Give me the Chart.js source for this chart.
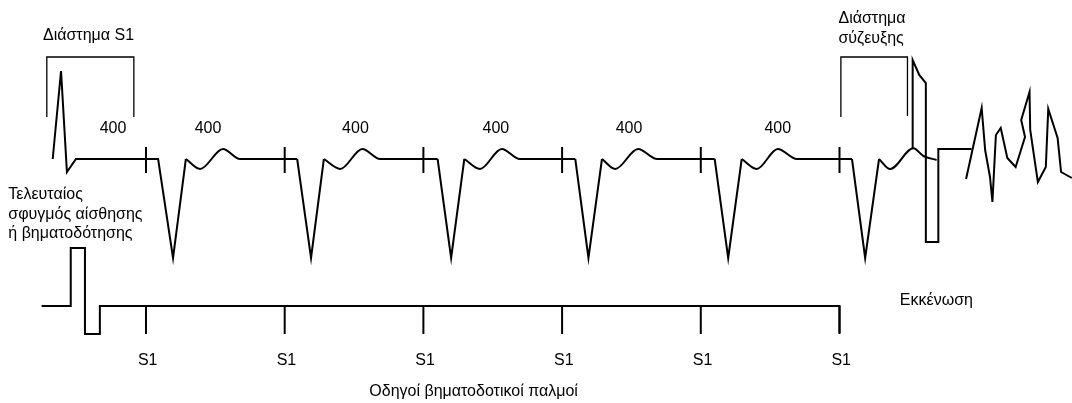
<!DOCTYPE html>
<html>
<head>
<meta charset="utf-8">
<title>Διάστημα σύζευξης</title>
<script src="https://cdn.jsdelivr.net/npm/chart.js@4.4.1/dist/chart.umd.min.js"></script>
<style>
  html, body { margin: 0; padding: 0; background: #fff; }
  #wrap { width: 1072px; height: 403px; }
</style>
</head>
<body>
<div id="wrap"><canvas id="ecgChart" width="1072" height="403"></canvas></div>
<script>
// time in ms (0 = first S1 pace), amplitude in mm from the baseline
const s1Times = [0, 400, 800, 1200, 1600, 2000];

// last sensed / paced beat before the train
const spontT = [-269, -245, -228, -202];
const spontA = [0, 8.8, -1.3, 0];

// paced beats, one entry per S1
const qrsOnset = [35, 436, 841, 1238, 1640, 2036];
const qrsNadir = [78, 476, 880, 1276, 1679, 2074];
const qrsEnd   = [115, 513, 918, 1315, 1718, 2114];
const qrsAmp   = [-9.9, -9.9, -9.9, -9.9, -9.9, -9.9];
const tDip     = [156, 560, 963, 1353, 1761, 2146];
const tDipAmp  = [-1.0, -1.0, -1.0, -1.0, -1.0, -1.0];
const tPeak    = [222, 624, 1026, 1419, 1822, 2213];
const tPeakAmp = [1.0, 1.0, 1.0, 1.0, 1.0, 1.07];
const tEnd     = [271, 675, 1078, 1474, 1877];
// last T wave is cut by the shock
const lastTailT = [2242, 2280];
const lastTailA = [0.3, -0.1];

// S1 marks on the ECG
const markTop = 1.2;
const markBottom = -1.4;

// shock and VF
const shockT = [2211, 2211, 2230, 2249, 2249, 2285, 2285, 2381];
const shockA = [1.0, 9.9, 8.4, 7.6, -8.3, -8.3, 1.0, 1.0];
const fibT = [2365, 2410, 2420, 2434, 2441, 2451, 2465, 2484, 2508, 2535, 2524, 2548, 2550, 2572, 2595, 2602, 2629, 2639, 2670];
const fibA = [-2.0, 5.1, 0.9, -1.8, -4.3, 2.4, 3.1, 0.1, -0.8, 2.2, 3.9, 6.7, 2.9, -2.3, -0.8, 5.0, 2.1, -1.3, -1.9];

// interval brackets
const bracketS1T = [-286, -286, -35, -35];
const bracketS1A = [4.2, 10.2, 10.2, 4.2];
const bracketCouplingT = [2004, 2004, 2196, 2196];
const bracketCouplingA = [4.2, 10.2, 10.2, 4.3];

// pacing channel (second axis)
const paceT = [-301, -217, -217, -176, -176, -133, -133, 2000, 2000];
const paceA = [0, 0, 5.8, 5.8, -2.8, -2.8, 0, 0, -2.7];
const paceMarkBottom = -2.8;

// text
const intervalLabels = ['400', '400', '400', '400', '400', '400'];
const intervalLabelT = [-95, 179, 604, 1009, 1393, 1822];
const textLabels = [
    { text: 'Διάστημα S1', t: -297, a: 11.9, axis: 'y', align: 'left' },
    { text: 'Διάστημα', t: 1997, a: 13.65, axis: 'y', align: 'left' },
    { text: 'σύζευξης', t: 1997, a: 11.6, axis: 'y', align: 'left' },
    { text: 'Τελευταίος', t: -397, a: -3.95, axis: 'y', align: 'left' },
    { text: 'σφυγμός αίσθησης', t: -397, a: -5.95, axis: 'y', align: 'left' },
    { text: 'ή βηματοδότησης', t: -397, a: -7.9, axis: 'y', align: 'left' },
    { text: 'Εκκένωση', t: 2174, a: 0.12, axis: 'y2', align: 'left' },
    { text: 'Οδηγοί βηματοδοτικοί παλμοί', t: 644, a: -9.0, axis: 'y2', align: 'left' }
];
intervalLabels.forEach((txt, i) => {
    textLabels.push({ text: txt, t: intervalLabelT[i], a: 2.57, axis: 'y', align: 'center' });
});
s1Times.forEach(t => {
    textLabels.push({ text: 'S1', t: t + 5, a: -5.9, axis: 'y2', align: 'center' });
});

function pts(xs, ys) {
    return xs.map((x, i) => ({ x: x, y: ys[i] }));
}

document.addEventListener('DOMContentLoaded', function () {
    // straight parts of the ECG: spontaneous beat + each QRS
    const ecgSharp = pts(spontT, spontA);
    for (let i = 0; i < s1Times.length; i++) {
        if (i > 0) ecgSharp.push({ x: qrsOnset[i], y: null });
        ecgSharp.push({ x: qrsOnset[i], y: 0 });
        ecgSharp.push({ x: qrsNadir[i], y: qrsAmp[i] });
        ecgSharp.push({ x: qrsEnd[i], y: 0 });
    }

    // T waves (smooth), each runs on to the next QRS onset
    const tWaveSets = [];
    for (let i = 0; i < s1Times.length; i++) {
        const wave = [
            { x: qrsEnd[i], y: 0 },
            { x: tDip[i], y: tDipAmp[i] },
            { x: tPeak[i], y: tPeakAmp[i] }
        ];
        if (i < tEnd.length) {
            wave.push({ x: tEnd[i], y: 0 });
            wave.push({ x: qrsOnset[i + 1], y: 0 });
        } else {
            lastTailT.forEach((t, k) => wave.push({ x: t, y: lastTailA[k] }));
        }
        tWaveSets.push(wave);
    }

    const ecgMarks = [];
    const paceMarks = [];
    s1Times.forEach(t => {
        ecgMarks.push({ x: t, y: markTop }, { x: t, y: markBottom }, { x: t, y: null });
        paceMarks.push({ x: t, y: 0 }, { x: t, y: paceMarkBottom }, { x: t, y: null });
    });

    const brackets = pts(bracketS1T, bracketS1A)
        .concat([{ x: -35, y: null }])
        .concat(pts(bracketCouplingT, bracketCouplingA));

    function line(data, extra) {
        return Object.assign({
            data: data,
            showLine: true,
            borderColor: '#000',
            borderWidth: 2,
            pointRadius: 0,
            pointHoverRadius: 0,
            tension: 0,
            fill: false,
            yAxisID: 'y'
        }, extra || {});
    }

    const datasets = [
        line(ecgSharp),
        line(ecgMarks),
        line(pts(shockT, shockA)),
        line(pts(fibT, fibA)),
        line(brackets, { borderWidth: 1.3 }),
        line(pts(paceT, paceA), { yAxisID: 'y2' }),
        line(paceMarks, { yAxisID: 'y2' })
    ];
    tWaveSets.forEach(w => datasets.push(line(w, { cubicInterpolationMode: 'monotone' })));

    const textPlugin = {
        id: 'diagramText',
        afterDraw(chart) {
            const ctx = chart.ctx;
            ctx.save();
            ctx.fillStyle = '#000';
            ctx.font = '16px "Liberation Sans", Arial, sans-serif';
            ctx.textBaseline = 'alphabetic';
            textLabels.forEach(l => {
                ctx.textAlign = l.align;
                ctx.fillText(l.text,
                    chart.scales.x.getPixelForValue(l.t),
                    chart.scales[l.axis].getPixelForValue(l.a));
            });
            ctx.restore();
        }
    };

    new Chart(document.getElementById('ecgChart').getContext('2d'), {
        type: 'scatter',
        data: { datasets: datasets },
        options: {
            responsive: false,
            devicePixelRatio: 1,
            animation: false,
            events: [],
            layout: { padding: 0 },
            scales: {
                x: { type: 'linear', min: -421, max: 2670.5, display: false },
                y: { type: 'linear', min: -24.4, max: 15.9, display: false },
                y2: { type: 'linear', min: -9.7, max: 30.6, display: false }
            },
            plugins: {
                legend: { display: false },
                tooltip: { enabled: false }
            }
        },
        plugins: [textPlugin]
    });
});
</script>
</body>
</html>
